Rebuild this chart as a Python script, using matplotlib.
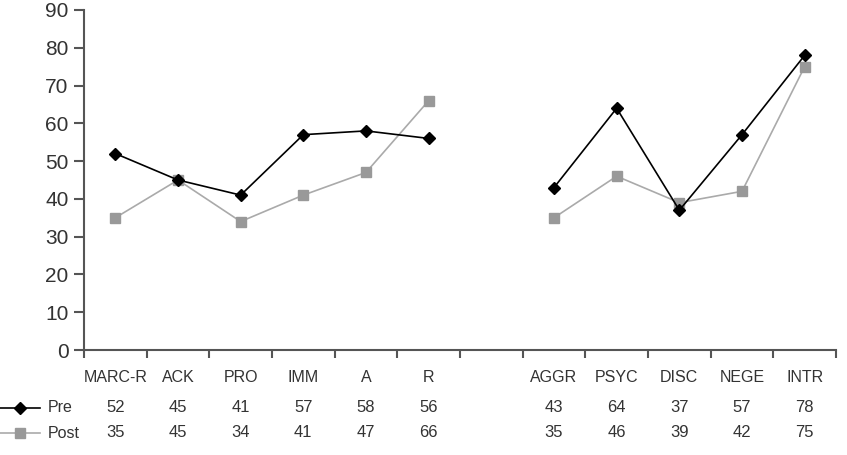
import numpy as np
import matplotlib.pyplot as plt
from matplotlib.lines import Line2D

plt.rcParams['font.family'] = ['Liberation Sans', 'DejaVu Sans']

# data (blank slot between R and AGGR)
categories = ['MARC-R', 'ACK', 'PRO', 'IMM', 'A', 'R', '', 'AGGR', 'PSYC', 'DISC', 'NEGE', 'INTR']
pre = [52, 45, 41, 57, 58, 56, None, 43, 64, 37, 57, 78]
post = [35, 45, 34, 41, 47, 66, None, 35, 46, 39, 42, 75]

pre_col = '#000000'
post_col = '#999999'
axis_col = '#555555'
txt_col = '#333333'

fig = plt.figure(figsize=(8.47, 4.55), dpi=100)
ax = fig.add_axes([84 / 847, 1 - 350 / 455, (836 - 84) / 847, 340 / 455])

x = np.arange(len(categories))
pre_arr = np.array([np.nan if v is None else v for v in pre], dtype=float)
post_arr = np.array([np.nan if v is None else v for v in post], dtype=float)

ax.plot(x, post_arr, color='#aaaaaa', lw=1.2, marker='s', ms=6.5, mfc=post_col, mec=post_col, zorder=2)
ax.plot(x, pre_arr, color=pre_col, lw=1.2, marker='D', ms=6.5, mfc=pre_col, mec=pre_col, zorder=3)

ax.set_xlim(-0.5, len(categories) - 0.5)
ax.set_ylim(0, 90)
ax.set_yticks(range(0, 91, 10))
ax.set_xticks(np.arange(-0.5, len(categories), 1.0))
ax.set_xticklabels([])
ax.tick_params(axis='y', labelsize=15, colors=axis_col, labelcolor=txt_col, length=7, width=1.5, direction='out', pad=4)
ax.tick_params(axis='x', length=6, width=1.5, colors=axis_col, direction='in')
for s in ['top', 'right']:
    ax.spines[s].set_visible(False)
for s in ['left', 'bottom']:
    ax.spines[s].set_color(axis_col)
    ax.spines[s].set_linewidth(1.5)

# flip x ticks to point down
for t in ax.xaxis.get_major_ticks():
    t.tick1line.set_marker(3)

# category labels and data table
trans = ax.get_xaxis_transform()
for i, c in enumerate(categories):
    ax.text(i, -0.082, c, transform=trans, ha='center', va='center', fontsize=11.5, color=txt_col)
    if pre[i] is not None:
        ax.text(i, -0.17, str(pre[i]), transform=trans, ha='center', va='center', fontsize=12, color=txt_col)
    if post[i] is not None:
        ax.text(i, -0.244, str(post[i]), transform=trans, ha='center', va='center', fontsize=12, color=txt_col)

# legend keys at the left of the table
for yy, col, lcol, mk, lab in [(1 - 408 / 455, pre_col, pre_col, 'D', 'Pre'),
                                (1 - 433 / 455, post_col, '#aaaaaa', 's', 'Post')]:
    fig.add_artist(Line2D([0.0, 40 / 847], [yy, yy], color=lcol, lw=1.2))
    fig.add_artist(Line2D([20 / 847], [yy], marker=mk, ms=6.5, color=col, lw=0))
    fig.text(48 / 847, yy, lab, ha='left', va='center', fontsize=11.5, color=txt_col)

fig.savefig('out.png', dpi=100)
